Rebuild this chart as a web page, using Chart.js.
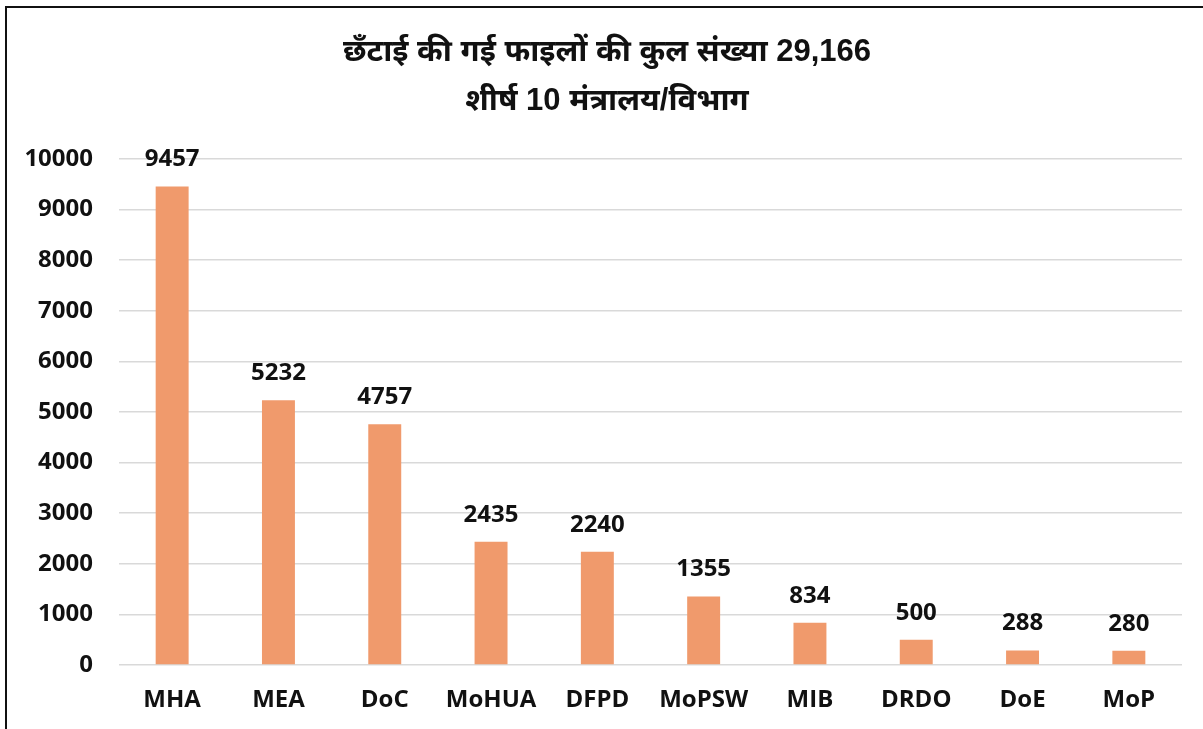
<!DOCTYPE html>
<html>
<head>
<meta charset="utf-8">
<script src="https://cdn.jsdelivr.net/npm/chart.js@4"></script>
<style>
  body { margin: 0; background: #fff; }
  #frame { position: absolute; left: 5px; top: 6px; width: 1300px; height: 800px;
           border-left: 2px solid #111; border-top: 2px solid #111; }
  #Chart { position: absolute; left: 0; top: 0; }
</style>
</head>
<body>
<div id="frame"></div>
<canvas id="Chart" width="1203" height="729"></canvas>
<script>
// data
const titleLines = ['छँटाई की गई फाइलों की कुल संख्या 29,166', 'शीर्ष 10 मंत्रालय/विभाग']
const labels = ['MHA', 'MEA', 'DoC', 'MoHUA', 'DFPD', 'MoPSW', 'MIB', 'DRDO', 'DoE', 'MoP']
const files = [9457, 5232, 4757, 2435, 2240, 1355, 834, 500, 288, 280]
const yTicks = [0, 1000, 2000, 3000, 4000, 5000, 6000, 7000, 8000, 9000, 10000]

const fontFamily = '"Open Sans", Lato, sans-serif'
const labelFont = 'bold 24px ' + fontFamily

// title drawn by hand so the plot area can be placed exactly
const titlePlugin = {
    id: 'twoLineTitle',
    afterDraw(chart) {
        const ctx = chart.ctx
        ctx.save()
        ctx.fillStyle = '#111'
        ctx.textAlign = 'center'
        ctx.textBaseline = 'middle'
        ctx.font = 'bold 31px "Liberation Sans", "Noto Sans", sans-serif'
        ctx.fillText(titleLines[0], 607, 52)
        ctx.fillText(titleLines[1], 607, 101)
        ctx.restore()
    }
}

// value labels above each bar
const valuePlugin = {
    id: 'valueLabels',
    afterDatasetsDraw(chart) {
        const ctx = chart.ctx
        const meta = chart.getDatasetMeta(0)
        ctx.save()
        ctx.fillStyle = '#111'
        ctx.font = labelFont
        ctx.textAlign = 'center'
        ctx.textBaseline = 'alphabetic'
        meta.data.forEach((bar, i) => {
            ctx.fillText(files[i], bar.x, bar.y - 20)
        })
        ctx.restore()
    }
}

const ctx = document.getElementById('Chart').getContext('2d')
const myChart = new Chart(ctx, {
    type: 'bar',
    data: {
        labels: labels,
        datasets: [{
            data: files,
            backgroundColor: '#F09A6C',
            barPercentage: 0.62,
            categoryPercentage: 0.5
        }]
    },
    options: {
        responsive: false,
        animation: false,
        layout: { padding: { top: 159, right: 21, bottom: 0, left: 0 } },
        plugins: {
            legend: { display: false },
            tooltip: { enabled: false }
        },
        scales: {
            x: {
                grid: { display: false, drawTicks: false },
                border: { display: false },
                ticks: { color: '#111', font: { family: fontFamily, size: 24, weight: 'bold' }, padding: 21 },
                afterFit(scale) { scale.height = 64 }
            },
            y: {
                min: 0,
                max: 10000,
                afterBuildTicks(scale) { scale.ticks = yTicks.map(v => ({ value: v })) },
                grid: { color: '#d9d9d9', lineWidth: 1.5, drawTicks: false },
                border: { display: false },
                ticks: {
                    color: '#111',
                    font: { family: fontFamily, size: 24, weight: 'bold' },
                    padding: 26,
                    callback: v => String(v)
                },
                afterFit(scale) { scale.width = 119 }
            }
        }
    },
    plugins: [titlePlugin, valuePlugin]
})
</script>
</body>
</html>
